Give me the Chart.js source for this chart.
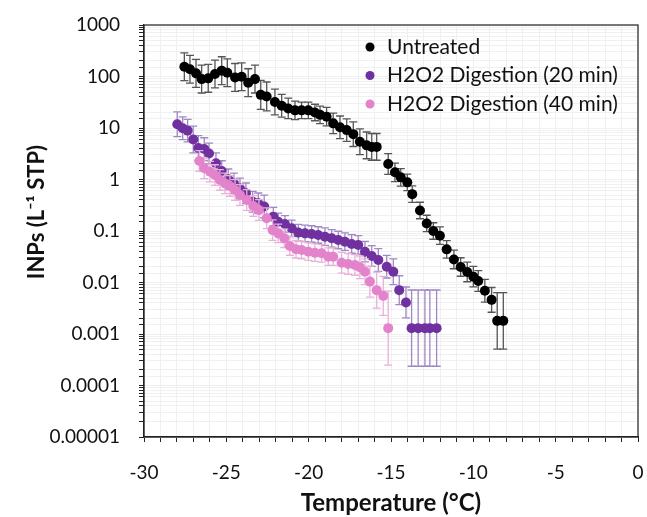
<!DOCTYPE html>
<html>
<head>
<meta charset="utf-8">
<script src="https://cdn.jsdelivr.net/npm/chart.js@4.4.0/dist/chart.umd.min.js"></script>
<style>
  body { margin: 0; background: #fff; }
  #wrap { width: 647px; height: 517px; }
</style>
</head>
<body>
<div id="wrap"><canvas id="inpChart" width="647" height="517"></canvas></div>
<script>
// Untreated
const untreatedT = [-27.55, -27.21, -26.84, -26.50, -26.10, -25.69, -25.28, -24.94, -24.47, -24.07,
    -23.67, -23.26, -22.91, -22.55, -22.05, -21.64, -21.24, -20.83, -20.43, -20.02,
    -19.62, -19.31, -18.91, -18.51, -18.10, -17.69, -17.29, -16.89, -16.48, -16.17,
    -15.87, -15.17, -14.76, -14.41, -14.01, -13.71, -13.24, -12.83, -12.43, -12.03,
    -11.62, -11.18, -10.77, -10.37, -10.00, -9.70, -9.30, -8.89, -8.55, -8.18];
const untreatedINP = [155, 138, 115, 89, 92, 112, 130, 118, 96, 99,
    76, 89, 44, 41, 32, 27, 24, 22, 22, 22,
    20, 18, 16.6, 12.3, 10.3, 9.1, 7.6, 5.4, 4.6, 4.3,
    4.3, 2.0, 1.38, 1.1, 0.88, 0.52, 0.25, 0.14, 0.10, 0.081,
    0.044, 0.028, 0.020, 0.016, 0.013, 0.0107, 0.0069, 0.0046, 0.0018, 0.0018];
// error bar half-length, in decades
const untreatedErr = [0.27, 0.27, 0.27, 0.27, 0.27, 0.27, 0.27, 0.27, 0.27, 0.27,
    0.27, 0.27, 0.28, 0.28, 0.25, 0.22, 0.2, 0.18, 0.16, 0.16,
    0.16, 0.17, 0.18, 0.2, 0.22, 0.22, 0.24, 0.25, 0.26, 0.26,
    0.26, 0.2, 0.18, 0.17, 0.16, 0.16, 0.16, 0.16, 0.16, 0.17,
    0.17, 0.18, 0.18, 0.19, 0.2, 0.2, 0.22, 0.24, 0.55, 0.55];

// H2O2 20 min
const h20T = [-27.98, -27.65, -27.35, -27.01, -26.70, -26.34, -26.05, -25.63, -25.28, -24.88,
    -24.54, -24.17, -23.81, -23.40, -23.06, -22.70, -22.15, -21.85, -21.44, -21.03,
    -20.63, -20.22, -19.82, -19.42, -19.01, -18.60, -18.20, -17.80, -17.39, -16.99,
    -16.58, -16.17, -15.77, -15.26, -14.86, -14.50, -14.09, -13.75, -13.35, -12.94,
    -12.64, -12.23];
const h20INP = [11.8, 9.9, 8.9, 6.0, 4.1, 3.9, 3.2, 2.07, 1.46, 1.01,
    0.84, 0.67, 0.54, 0.37, 0.345, 0.30, 0.19, 0.151, 0.137, 0.113,
    0.093, 0.090, 0.0875, 0.0836, 0.0776, 0.0722, 0.0669, 0.062, 0.056, 0.0535,
    0.0397, 0.0327, 0.0274, 0.0203, 0.0162, 0.0071, 0.0041, 0.0013, 0.0013, 0.0013,
    0.0013, 0.0013];
const h20Err = [0.24, 0.22, 0.22, 0.26, 0.24, 0.22, 0.2, 0.2, 0.2, 0.2,
    0.2, 0.2, 0.2, 0.2, 0.2, 0.22, 0.18, 0.17, 0.16, 0.16,
    0.16, 0.16, 0.16, 0.16, 0.17, 0.17, 0.17, 0.17, 0.18, 0.18,
    0.2, 0.2, 0.22, 0.22, 0.25, 0.28, 0.3, 0.74, 0.74, 0.74,
    0.74, 0.74];

// H2O2 40 min
const h40T = [-26.64, -26.34, -25.99, -25.69, -25.39, -25.08, -24.78, -24.47, -24.17, -23.76,
    -23.36, -23.02, -22.55, -22.19, -21.85, -21.48, -21.14, -20.77, -20.43, -20.02,
    -19.62, -19.21, -18.81, -18.51, -18.00, -17.60, -17.19, -16.89, -16.58, -16.28,
    -15.87, -15.47, -15.17];
const h40INP = [2.29, 1.65, 1.42, 1.22, 0.98, 0.84, 0.75, 0.625, 0.50, 0.40,
    0.305, 0.256, 0.177, 0.104, 0.090, 0.072, 0.0512, 0.0442, 0.0428, 0.0397,
    0.0379, 0.0369, 0.0317, 0.0317, 0.0242, 0.0229, 0.0219, 0.0197, 0.0162, 0.0104,
    0.0071, 0.0055, 0.0013];
const h40Err = [0.2, 0.2, 0.2, 0.2, 0.2, 0.2, 0.2, 0.2, 0.2, 0.2,
    0.2, 0.2, 0.2, 0.2, 0.18, 0.18, 0.18, 0.17, 0.17, 0.17,
    0.17, 0.17, 0.17, 0.17, 0.2, 0.2, 0.2, 0.22, 0.25, 0.3,
    0.35, 0.38, 0.72];

const seriesNames = ['Untreated', 'H2O2 Digestion (20 min)', 'H2O2 Digestion (40 min)'];
const yTickLabels = ['0.00001', '0.0001', '0.001', '0.01', '0.1', '1', '10', '100', '1000'];

const FONT = 'Lato, "Open Sans", sans-serif';

const toPoints = (xs, ys) => xs.map((x, i) => ({ x: x, y: ys[i] }));

const errorBars = {
    id: 'errorBars',
    beforeDatasetDraw(chart, args) {
        const ds = chart.data.datasets[args.index];
        const meta = args.meta;
        const yScale = chart.scales.y;
        const ctx = chart.ctx;
        ctx.save();
        ctx.strokeStyle = ds.errColor;
        ctx.lineWidth = 1.3;
        meta.data.forEach((pt, i) => {
            const v = ds.data[i].y;
            const f = Math.pow(10, ds.err[i]);
            const yHi = yScale.getPixelForValue(v * f);
            const yLo = yScale.getPixelForValue(v / f);
            ctx.beginPath();
            ctx.moveTo(pt.x, yHi); ctx.lineTo(pt.x, yLo);
            ctx.moveTo(pt.x - 4, yHi); ctx.lineTo(pt.x + 4, yHi);
            ctx.moveTo(pt.x - 4, yLo); ctx.lineTo(pt.x + 4, yLo);
            ctx.stroke();
        });
        ctx.restore();
    }
};

const extras = {
    id: 'extras',
    afterDraw(chart) {
        const ctx = chart.ctx;
        const a = chart.chartArea;
        ctx.save();
        // frame
        ctx.strokeStyle = '#222';
        ctx.lineWidth = 1.2;
        ctx.strokeRect(a.left, a.top, a.right - a.left, a.bottom - a.top);

        // legend
        ctx.font = '21px ' + FONT;
        ctx.textBaseline = 'middle';
        ctx.textAlign = 'left';
        chart.data.datasets.forEach((ds, i) => {
            const y = a.top + 22 + i * 28.5;
            ctx.fillStyle = ds.backgroundColor;
            ctx.beginPath();
            ctx.arc(a.left + 226, y, 4.5, 0, Math.PI * 2);
            ctx.fill();
            ctx.fillStyle = '#111';
            ctx.fillText(seriesNames[i], a.left + 243, y);
        });

        // axis titles
        ctx.fillStyle = '#111';
        ctx.textAlign = 'center';
        ctx.font = 'bold 24px ' + FONT;
        ctx.fillText('Temperature (°C)', (a.left + a.right) / 2, 503);
        ctx.font = 'bold 22px ' + FONT;
        ctx.translate(37, 212);
        ctx.rotate(-Math.PI / 2);
        ctx.fillText('INPs (L⁻¹ STP)', 0, 0);
        ctx.restore();
    }
};

new Chart(document.getElementById('inpChart'), {
    type: 'scatter',
    data: {
        datasets: [
            {
                label: seriesNames[0],
                data: toPoints(untreatedT, untreatedINP),
                err: untreatedErr,
                errColor: '#555',
                backgroundColor: '#000000',
                order: 3
            },
            {
                label: seriesNames[1],
                data: toPoints(h20T, h20INP),
                err: h20Err,
                errColor: '#a088c4',
                backgroundColor: '#7030A0',
                order: 2
            },
            {
                label: seriesNames[2],
                data: toPoints(h40T, h40INP),
                err: h40Err,
                errColor: '#eab0da',
                backgroundColor: '#E383CB',
                order: 1
            }
        ]
    },
    options: {
        responsive: false,
        animation: false,
        devicePixelRatio: 1,
        layout: { padding: { top: 25, right: 9, left: 0, bottom: 0 } },
        elements: { point: { radius: 5, borderWidth: 0, hoverRadius: 5 } },
        plugins: {
            legend: { display: false },
            tooltip: { enabled: false }
        },
        scales: {
            x: {
                type: 'linear',
                min: -30,
                max: 0,
                afterFit: (s) => { s.height = 80; s.paddingLeft = 0; s.paddingRight = 0; },
                ticks: {
                    stepSize: 1,
                    autoSkip: false,
                    maxRotation: 0,
                    padding: 19,
                    color: '#111',
                    font: { family: FONT, size: 19 },
                    callback: (v) => (v % 5 === 0 ? String(v) : '')
                },
                grid: { color: '#f0f0f0', tickColor: '#222', tickLength: 5 },
                border: { color: '#222', width: 1.2 }
            },
            y: {
                type: 'logarithmic',
                min: 0.00001,
                max: 1000,
                afterFit: (s) => { s.width = 144; s.paddingTop = 0; s.paddingBottom = 0; },
                ticks: {
                    autoSkip: false,
                    padding: 19,
                    color: '#111',
                    font: { family: FONT, size: 19 },
                    callback: (v) => {
                        const e = Math.log10(v);
                        if (Math.abs(e - Math.round(e)) < 1e-6) return yTickLabels[Math.round(e) + 5];
                        return '';
                    }
                },
                grid: { color: '#f0f0f0', tickColor: '#222', tickLength: 5 },
                border: { color: '#222', width: 1.2 }
            }
        }
    },
    plugins: [errorBars, extras]
});
</script>
</body>
</html>
